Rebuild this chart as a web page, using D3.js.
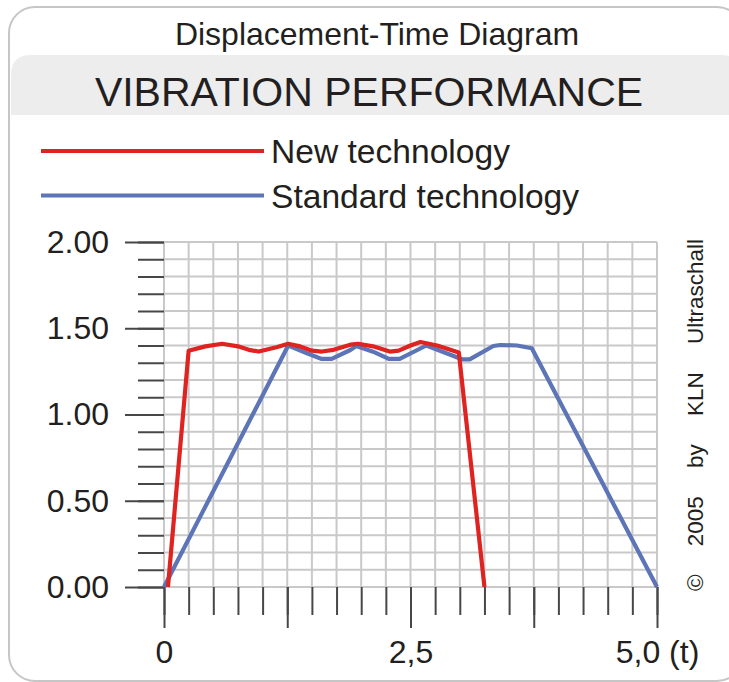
<!DOCTYPE html>
<html>
<head>
    <script src="https://d3js.org/d3.v7.min.js"></script>
    <style>
        body { margin: 0; background: #fff; }
        svg text {
            font-family: "Liberation Sans", Arial, sans-serif;
            fill: #231f20;
        }
        .grid line { stroke: #c9c9c9; stroke-width: 2px; }
        .axis line { stroke: #474747; stroke-width: 2px; }
        .axis text { font-size: 32px; fill: #231f20; }
        .series { fill: none; stroke-width: 4.2px; stroke-linejoin: round; }
    </style>
</head>
<body>
    <div id="chart"></div>

    <script>
        // Data (time in t, displacement)
        const newTechT = [0.04, 0.25, 0.42, 0.59, 0.75, 0.86, 0.96, 1.14, 1.26, 1.38, 1.50, 1.60, 1.72, 1.89, 1.97, 2.12, 2.29, 2.38, 2.50, 2.60, 2.77, 2.99, 3.25];
        const newTechV = [0, 1.37, 1.395, 1.41, 1.395, 1.375, 1.365, 1.39, 1.41, 1.395, 1.37, 1.365, 1.375, 1.405, 1.41, 1.395, 1.365, 1.37, 1.40, 1.42, 1.40, 1.36, 0];

        const stdTechT = [0, 1.26, 1.45, 1.60, 1.70, 1.89, 1.95, 2.12, 2.28, 2.39, 2.66, 2.97, 3.02, 3.10, 3.34, 3.41, 3.58, 3.73, 5.0];
        const stdTechV = [0, 1.40, 1.355, 1.322, 1.322, 1.374, 1.397, 1.364, 1.322, 1.322, 1.40, 1.332, 1.32, 1.32, 1.397, 1.403, 1.40, 1.384, 0];

        const seriesNames = ["New technology", "Standard technology"];
        const seriesColors = ["#de2321", "#5d74b6"];

        const yMajor = [0, 0.5, 1.0, 1.5, 2.0];
        const yMinor = d3.range(0, 2.001, 0.1);
        const xMajor = [0, 1.25, 2.5, 3.75, 5.0];
        const xMinor = d3.range(0, 5.001, 0.25);
        const xLabels = { 0: "0", 2.5: "2,5", 5: "5,0 (t)" };

        const width = 729, height = 682;

        const svg = d3.select("#chart")
            .append("svg")
            .attr("width", width)
            .attr("height", height);

        // Frame
        svg.append("rect")
            .attr("x", 9).attr("y", 7)
            .attr("width", 734).attr("height", 674)
            .attr("rx", 26)
            .attr("fill", "#fff")
            .attr("stroke", "#c6c6c6")
            .attr("stroke-width", 2);

        // Grey band behind main title (rounded top corners)
        const bx0 = 11, bx1 = 741, by0 = 55, by1 = 115, br = 20;
        svg.append("path")
            .attr("d", `M${bx0},${by1} L${bx0},${by0 + br} Q${bx0},${by0} ${bx0 + br},${by0} L${bx1 - br},${by0} Q${bx1},${by0} ${bx1},${by0 + br} L${bx1},${by1} Z`)
            .attr("fill", "#ededed");

        svg.append("text")
            .attr("x", 377).attr("y", 45)
            .attr("text-anchor", "middle")
            .attr("font-size", 32)
            .text("Displacement-Time Diagram");

        svg.append("text")
            .attr("x", 369).attr("y", 106)
            .attr("text-anchor", "middle")
            .attr("font-size", 41)
            .text("VIBRATION PERFORMANCE");

        // Legend
        const legend = svg.append("g");
        seriesNames.forEach((name, i) => {
            const ly = 151 + i * 44.5;
            legend.append("line")
                .attr("x1", 41).attr("x2", 264)
                .attr("y1", ly).attr("y2", ly)
                .attr("stroke", seriesColors[i])
                .attr("stroke-width", 4);
            legend.append("text")
                .attr("x", 271).attr("y", ly + 12)
                .attr("font-size", 33.6)
                .text(name);
        });

        // Scales
        const x = d3.scaleLinear().domain([0, 5]).range([164, 657]);
        const y = d3.scaleLinear().domain([0, 2]).range([587, 242]);

        // Grid
        const grid = svg.append("g").attr("class", "grid");
        grid.selectAll(".v")
            .data(xMinor)
            .enter().append("line")
            .attr("class", "v")
            .attr("x1", d => x(d)).attr("x2", d => x(d))
            .attr("y1", y(0)).attr("y2", y(2));
        grid.selectAll(".h")
            .data(yMinor)
            .enter().append("line")
            .attr("class", "h")
            .attr("x1", x(0)).attr("x2", x(5))
            .attr("y1", d => y(d)).attr("y2", d => y(d));

        // Y axis: minor and major ticks
        svg.append("g")
            .attr("class", "axis")
            .attr("transform", `translate(${x(0)},0)`)
            .call(d3.axisLeft(y).tickValues(yMinor).tickSize(26).tickFormat(""))
            .call(g => g.select(".domain").remove());
        svg.append("g")
            .attr("class", "axis")
            .attr("transform", `translate(${x(0)},0)`)
            .call(d3.axisLeft(y).tickValues(yMajor).tickSize(39).tickPadding(16).tickFormat(d3.format(".2f")))
            .call(g => g.select(".domain").remove());

        // X axis: minor and major ticks
        svg.append("g")
            .attr("class", "axis")
            .attr("transform", `translate(0,${y(0)})`)
            .call(d3.axisBottom(x).tickValues(xMinor).tickSize(28).tickFormat(""))
            .call(g => g.select(".domain").remove());
        svg.append("g")
            .attr("class", "axis")
            .attr("transform", `translate(0,${y(0)})`)
            .call(d3.axisBottom(x).tickValues(xMajor).tickSize(41).tickPadding(12)
                .tickFormat(d => xLabels[d] || ""))
            .call(g => g.select(".domain").remove());

        svg.selectAll(".axis text").attr("font-family", null);

        // Series lines
        const line = d3.line()
            .x(d => x(d[0]))
            .y(d => y(d[1]));

        const stdData = stdTechT.map((t, i) => [t, stdTechV[i]]);
        const newData = newTechT.map((t, i) => [t, newTechV[i]]);

        svg.append("path")
            .datum(stdData)
            .attr("class", "series")
            .attr("stroke", seriesColors[1])
            .attr("d", line);

        svg.append("path")
            .datum(newData)
            .attr("class", "series")
            .attr("stroke", seriesColors[0])
            .attr("d", line);

        // Copyright, rotated
        svg.append("text")
            .attr("transform", "translate(703,415) rotate(-90)")
            .attr("text-anchor", "middle")
            .attr("font-size", 22.5)
            .style("word-spacing", "22px")
            .text("© 2005 by KLN Ultraschall");
    </script>
</body>
</html>
